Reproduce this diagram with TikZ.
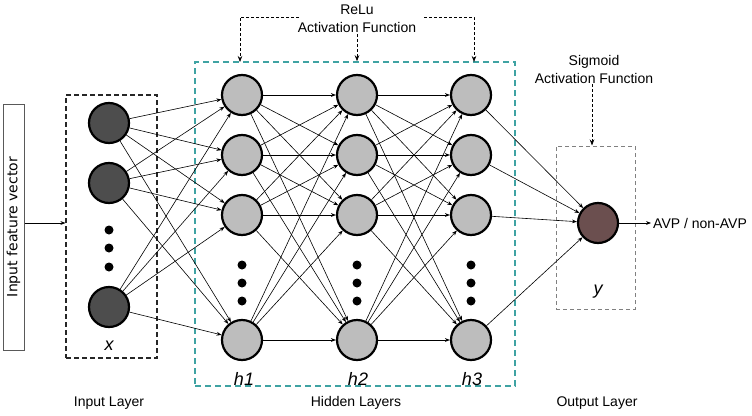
\documentclass[tikz,border=0pt]{standalone}
\usepackage{fontspec}
\setmainfont{Liberation Sans}
\newfontfamily\djv{DejaVu Sans}
\usetikzlibrary{arrows.meta}
\definecolor{ingray}{HTML}{4D4D4D}
\definecolor{hidgray}{HTML}{BDBDBD}
\definecolor{outbrown}{HTML}{6B4F4F}
\definecolor{teal2}{HTML}{3FA3A3}
\begin{document}
\begin{tikzpicture}[x=1pt,y=-1pt,
  neuron/.style={circle,draw=black,line width=2.2pt,minimum size=40pt,inner sep=0pt},
  inp/.style={neuron,fill=ingray},
  hid/.style={neuron,fill=hidgray},
  outn/.style={neuron,fill=outbrown},
  dotn/.style={circle,fill=black,minimum size=9pt,inner sep=0pt},
  conn/.style={line width=0.6pt,-{Stealth[length=5pt,width=3.8pt]}},
  dasharrow/.style={line width=0.7pt,dash pattern=on 3pt off 2pt,-{Stealth[length=6pt,width=4.5pt]}},
  lbl/.style={font=\fontsize{14}{18}\selectfont,align=center},
  hlbl/.style={font=\fontsize{18}{20}\selectfont\itshape},
]
\useasboundingbox (0,0) rectangle (752,415);

% boxes
\node[draw=gray!70!black,line width=1pt,rotate=90,minimum width=246pt,minimum height=21pt,inner sep=0pt,font=\djv\fontsize{14}{16}\selectfont] (ifv) at (13.5,227) {Input feature vector};
\node[draw=black!85,line width=1.1pt,dash pattern=on 5pt off 3pt,minimum width=91pt,minimum height=263pt,inner sep=0pt] (ibox) at (111.5,226.5) {};
\node[draw=teal2,line width=1.5pt,dash pattern=on 6pt off 4pt,minimum width=320pt,minimum height=324pt,inner sep=0pt] (hbox) at (355,224) {};
\node[draw=gray,line width=1pt,dash pattern=on 4pt off 3pt,minimum width=79pt,minimum height=163pt,inner sep=0pt] (obox) at (595.5,227.5) {};

% input neurons
\node[inp] (i1) at (109,123) {};
\node[inp] (i2) at (109,183) {};
\node[inp] (i3) at (109,307) {};
\node[dotn] (di1) at (109,230) {};
\node[dotn] (di2) at (109,248) {};
\node[dotn] (di3) at (109,267) {};

% hidden neurons
\foreach \n/\x in {a/242,b/357,c/471}{
  \node[hid] (\n1) at (\x,95) {};
  \node[hid] (\n2) at (\x,155) {};
  \node[hid] (\n3) at (\x,215) {};
  \node[hid] (\n4) at (\x,340) {};
  \node[dotn] (\n d1) at (\x,265) {};
  \node[dotn] (\n d2) at (\x,283) {};
  \node[dotn] (\n d3) at (\x,301) {};
}
\node[outn] (y) at (598,223) {};

% connections
\foreach \s in {1,2,3}{\foreach \t in {1,2,3,4}{\draw[conn] (i\s) -- (a\t);}}
\foreach \s in {1,2,3,4}{\foreach \t in {1,2,3,4}{\draw[conn] (a\s) -- (b\t); \draw[conn] (b\s) -- (c\t);}}
\foreach \s in {1,2,3,4}{\draw[conn] (c\s) -- (y);}

% input / output arrows
\coordinate (ifvout) at (24.5,223);
\draw[conn] (ifvout) -- (ibox.west |- ifvout);
\node[font=\fontsize{14}{16}\selectfont,anchor=west,inner sep=2pt] (avp) at (651,223) {AVP / non-AVP};
\draw[conn] (y) -- (avp.west);

% labels
\node[hlbl] (xl) at (109,346) {x};
\node[hlbl] (h1l) at (244,379) {h1};
\node[hlbl] (h2l) at (358,379) {h2};
\node[hlbl] (h3l) at (472,379) {h3};
\node[hlbl] (yl) at (598,292) {y};
\node[lbl] (il) at (109,403) {Input Layer};
\node[lbl] (hl) at (356,403) {Hidden Layers};
\node[lbl] (ol) at (597,403) {Output Layer};

% activation annotations
\node[lbl,inner sep=1pt] (relu) at (357,19) {ReLu\\Activation Function};
\coordinate (rl) at (299,17);
\coordinate (rr) at (424,17);
\coordinate (t1) at (240,62);
\coordinate (t3) at (474,62);
\draw[dasharrow] (rl) -| (t1);
\draw[dasharrow] (rr) -| (t3);
\draw[dasharrow] (relu.south) -- (relu.south |- hbox.north);
\node[lbl,inner sep=1pt] (sig) at (594,69) {Sigmoid\\Activation Function};
\draw[dasharrow] ([xshift=-2pt]sig.south) -- ([xshift=-2pt]sig.south |- obox.north);
\end{tikzpicture}
\end{document}
